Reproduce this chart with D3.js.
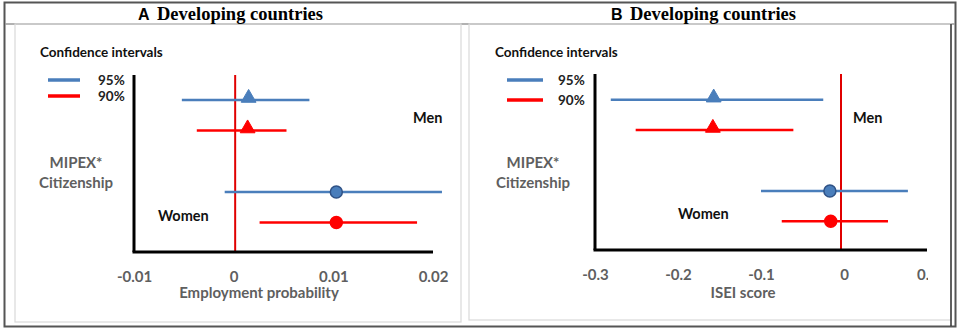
<!DOCTYPE html>
<html>
<head>
<meta charset="utf-8">
<script src="https://cdn.jsdelivr.net/npm/d3@7"></script>
<style>
  html, body { margin: 0; padding: 0; background: #fff; }
  svg { display: block; font-family: Lato, "Open Sans", sans-serif; }
</style>
</head>
<body>
<svg id="chart" width="958" height="328"></svg>
<script>
// ---------------- data ----------------
const panelLetters = ["A", "B"];
const panelTitles = ["Developing countries", "Developing countries"];
const xAxisTitles = ["Employment probability", "ISEI score"];
const groups = ["Men", "Women"];
const ciLevels = ["95%", "90%"];
const legendTitle = "Confidence intervals";
const yLabelLines = ["MIPEX*", "Citizenship"];

// rows: Men 95%, Men 90%, Women 95%, Women 90%
const rowGroup = ["Men", "Men", "Women", "Women"];
const rowLevel = ["95%", "90%", "95%", "90%"];

const empEstimate = [0.0015, 0.0014, 0.0103, 0.0103];
const empLow      = [-0.0052, -0.0037, -0.0009, 0.0026];
const empHigh     = [0.0076, 0.0053, 0.0209, 0.0184];

const iseiEstimate = [-0.157, -0.158, -0.017, -0.016];
const iseiLow      = [-0.281, -0.251, -0.100, -0.075];
const iseiHigh     = [-0.025, -0.061, 0.077, 0.053];

const empTicks = [-0.01, 0, 0.01, 0.02];
const empTickLabels = ["-0.01", "0", "0.01", "0.02"];
const iseiTicks = [-0.3, -0.2, -0.1, 0, 0.1];
const iseiTickLabels = ["-0.3", "-0.2", "-0.1", "0", "0.1"];

// ---------------- styles ----------------
const levelColor = { "95%": "#4a7ebb", "90%": "#ff0000" };
const levelStroke = { "95%": "#2f5286", "90%": "#ff0000" };
const textGray = "#5f5f5f";

const svg = d3.select("#chart");

// outer frame & title separator
svg.append("rect").attr("x", 4.5).attr("y", 2.5).attr("width", 951).attr("height", 324)
  .attr("fill", "none").attr("stroke", "#555").attr("stroke-width", 2);
svg.append("line").attr("x1", 5).attr("x2", 955).attr("y1", 24).attr("y2", 24)
  .attr("stroke", "#999").attr("stroke-width", 1.5);

function drawPanel(p) {
  const g = svg.append("g");
  // inner box
  g.append("rect").attr("x", p.box[0]).attr("y", p.box[1]).attr("width", p.box[2]).attr("height", p.box[3])
    .attr("fill", "none").attr("stroke", "#d9d9d9").attr("stroke-width", 1.2);

  // title
  g.append("text").attr("x", p.titleX).attr("y", 20).text(p.letter)
    .style("font-family", "'Liberation Sans', Arial, sans-serif").attr("font-weight", "bold").attr("font-size", 16);
  g.append("text").attr("x", p.titleX + 19).attr("y", 20).text(p.title)
    .style("font-family", "'Liberation Serif', 'Times New Roman', serif").attr("font-weight", "bold").attr("font-size", 18.5);

  const clipId = "clip" + p.letter;
  g.append("clipPath").attr("id", clipId).append("rect")
    .attr("x", p.box[0]).attr("y", p.box[1]).attr("width", p.clipRight - p.box[0]).attr("height", p.box[3]);
  const inner = g.append("g").attr("clip-path", `url(#${clipId})`);

  const x = d3.scaleLinear().domain(p.domain).range(p.xRange);
  const yG = d3.scaleBand().domain(groups).range(p.yBandRange).paddingInner(0.337).paddingOuter(0);
  const yL = d3.scalePoint().domain(ciLevels).range([0, yG.bandwidth()]).padding(0.5);
  const yRow = i => yG(rowGroup[i]) + yL(rowLevel[i]);

  // zero reference line
  inner.append("line").attr("x1", x(0) + p.zeroShift).attr("x2", x(0) + p.zeroShift).attr("y1", p.axisTop).attr("y2", p.axisY)
    .attr("stroke", "#e00000").attr("stroke-width", 2);

  // axes
  const xAxis = d3.axisBottom(x).tickValues(p.ticks).tickFormat((d, i) => p.tickLabels[i]).tickSize(0).tickPadding(19);
  const ax = inner.append("g").attr("transform", `translate(0,${p.axisY})`).call(xAxis);
  ax.select(".domain").remove();
  ax.attr("font-family", null).attr("font-size", null);
  ax.selectAll("text").attr("fill", textGray).attr("font-size", 15).attr("font-weight", "bold");
  inner.append("line").attr("x1", x(p.domain[0]) - 1.5).attr("x2", x(p.domain[1])).attr("y1", p.axisY).attr("y2", p.axisY)
    .attr("stroke", "#000").attr("stroke-width", 3);
  inner.append("line").attr("x1", x(p.domain[0])).attr("x2", x(p.domain[0])).attr("y1", p.axisTop).attr("y2", p.axisY)
    .attr("stroke", "#000").attr("stroke-width", 3);

  // CI lines
  const idx = d3.range(p.est.length);
  inner.selectAll("line.ci").data(idx).join("line").attr("class", "ci")
    .attr("x1", i => x(p.low[i])).attr("x2", i => x(p.high[i]))
    .attr("y1", yRow).attr("y2", yRow)
    .attr("stroke", i => levelColor[rowLevel[i]]).attr("stroke-width", 2.5);

  // markers: triangles for men, circles for women
  const tri = d3.symbol().type(d3.symbolTriangle).size(95);
  inner.selectAll("path.mk").data(idx.filter(i => rowGroup[i] === "Men")).join("path").attr("class", "mk")
    .attr("d", tri)
    .attr("transform", i => `translate(${x(p.est[i])},${yRow(i) - 2})`)
    .attr("fill", i => levelColor[rowLevel[i]]).attr("stroke", i => levelColor[rowLevel[i]]).attr("stroke-width", 1);
  inner.selectAll("circle.mk").data(idx.filter(i => rowGroup[i] === "Women")).join("circle").attr("class", "mk")
    .attr("cx", i => x(p.est[i])).attr("cy", yRow).attr("r", 6)
    .attr("fill", i => levelColor[rowLevel[i]]).attr("stroke", i => levelStroke[rowLevel[i]]).attr("stroke-width", 1.5);

  // legend
  g.append("text").attr("x", p.legendX).attr("y", 57).text(legendTitle)
    .attr("font-size", 13.5).attr("font-weight", "bold").attr("fill", "#111");
  ciLevels.forEach((lv, i) => {
    const ly = p.legendY[i];
    g.append("line").attr("x1", p.legendLine[0]).attr("x2", p.legendLine[1]).attr("y1", ly).attr("y2", ly)
      .attr("stroke", levelColor[lv]).attr("stroke-width", 3.5);
    g.append("text").attr("x", p.legendText).attr("y", ly + 5).text(lv)
      .attr("font-size", 13.5).attr("font-weight", "bold").attr("fill", "#222");
  });

  // group labels
  g.append("text").attr("x", p.menX).attr("y", 123).text(groups[0])
    .attr("font-size", 14.5).attr("font-weight", "bold").attr("fill", "#111");
  g.append("text").attr("x", p.womenX).attr("y", p.womenY).text(groups[1])
    .attr("font-size", 14.5).attr("font-weight", "bold").attr("fill", "#111");

  // y label
  yLabelLines.forEach((s, i) => {
    g.append("text").attr("x", p.yLabelX).attr("y", 168 + i * 20).attr("text-anchor", "middle").text(s)
      .attr("font-size", 15).attr("font-weight", "bold").attr("fill", textGray);
  });

  // x axis title
  g.append("text").attr("x", p.xTitleX).attr("y", 298).attr("text-anchor", "middle").text(p.xTitle)
    .attr("font-size", 15).attr("font-weight", "bold").attr("fill", textGray);
}

drawPanel({
  letter: panelLetters[0], title: panelTitles[0], titleX: 138,
  box: [15, 24, 446, 298], clipRight: 461,
  domain: [-0.01, 0.02], xRange: [134, 433], yBandRange: [84.75, 237.75],
  axisTop: 75, axisY: 252, zeroShift: 1.5,
  ticks: empTicks, tickLabels: empTickLabels,
  est: empEstimate, low: empLow, high: empHigh,
  legendX: 40, legendY: [80, 96], legendLine: [48, 80], legendText: 98,
  menX: 413, womenX: 158, womenY: 221, yLabelX: 76,
  xTitle: xAxisTitles[0], xTitleX: 259
});

drawPanel({
  letter: panelLetters[1], title: panelTitles[1], titleX: 611,
  box: [469, 24, 482, 296], clipRight: 928,
  domain: [-0.3, 0.1], xRange: [595, 927], yBandRange: [84.5, 236.5],
  axisTop: 74, axisY: 250, zeroShift: -3,
  ticks: iseiTicks, tickLabels: iseiTickLabels,
  est: iseiEstimate, low: iseiLow, high: iseiHigh,
  legendX: 495, legendY: [80, 100], legendLine: [507, 543], legendText: 558,
  menX: 853, womenX: 678, womenY: 219, yLabelX: 533,
  xTitle: xAxisTitles[1], xTitleX: 743
});

// right inner border of panel B
svg.append("line").attr("x1", 951).attr("x2", 951).attr("y1", 24).attr("y2", 326)
  .attr("stroke", "#333").attr("stroke-width", 1.5);
</script>
</body>
</html>
